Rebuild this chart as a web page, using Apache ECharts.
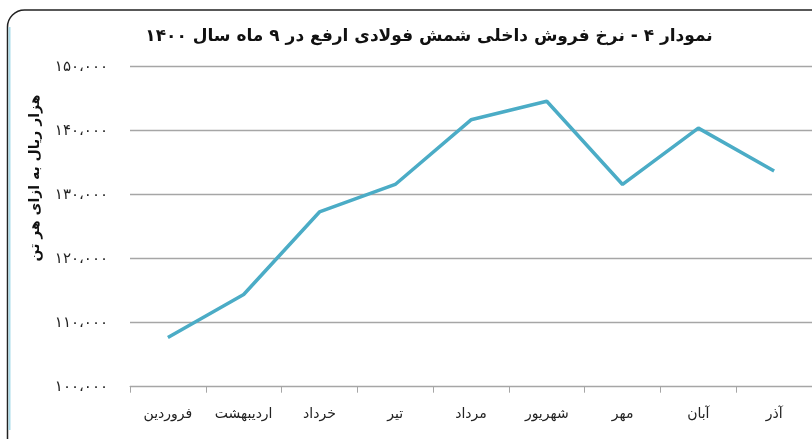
<!DOCTYPE html>
<html>
<head>
<meta charset="utf-8">
<script src="https://cdn.jsdelivr.net/npm/echarts@6/dist/echarts.min.js"></script>
<style>
  html, body { margin: 0; padding: 0; background: #fff; }
  #chart { width: 812px; height: 439px; }
</style>
</head>
<body>
<div id="chart"></div>
<script>
var months = ["فروردین", "اردیبهشت", "خرداد", "تیر", "مرداد", "شهریور", "مهر", "آبان", "آذر"];
var prices = [107700, 114400, 127300, 131600, 141700, 144600, 131600, 140400, 133700];
var yMin = 100000;
var yMax = 150000;
var yStep = 10000;

// ارقام فارسی با جداکننده هزارگان
var faDigits = ["۰", "۱", "۲", "۳", "۴", "۵", "۶", "۷", "۸", "۹"];
function toFa(v) {
  var s = String(v).replace(/\B(?=(\d{3})+(?!\d))/g, "،");
  return s.replace(/\d/g, function (d) { return faDigits[+d]; });
}

var myChart = echarts.init(document.getElementById("chart"));
var option = {
  animation: false,
  backgroundColor: "#fff",
  title: {
    text: "نمودار ۴ - نرخ فروش داخلی شمش فولادی ارفع در ۹ ماه سال ۱۴۰۰",
    left: 424,
    top: 23,
    textAlign: "center",
    textStyle: {
      fontFamily: "DejaVu Sans",
      fontWeight: "bold",
      fontSize: 17,
      color: "#111"
    }
  },
  grid: {
    left: 130,
    right: 0,
    top: 66.7,
    bottom: 52.3
  },
  xAxis: {
    type: "category",
    data: months,
    boundaryGap: true,
    axisLine: { lineStyle: { color: "#a6a6a6", width: 1 } },
    axisTick: { show: true, length: 6, lineStyle: { color: "#a6a6a6" } },
    axisLabel: {
      interval: 0,
      margin: 21,
      fontFamily: "DejaVu Sans",
      fontSize: 14,
      color: "#222"
    }
  },
  yAxis: {
    type: "value",
    min: yMin,
    max: yMax,
    interval: yStep,
    axisLine: { show: false },
    axisTick: { show: false },
    splitLine: { lineStyle: { color: "#a6a6a6", width: 1.3 } },
    axisLabel: {
      margin: 22,
      fontFamily: "DejaVu Sans",
      fontSize: 15,
      color: "#222",
      formatter: function (v) { return toFa(v); }
    }
  },
  graphic: [
    {
      type: "rect",
      shape: { x: 7.5, y: 10, width: 840, height: 460, r: 17 },
      style: { fill: "none", stroke: "#222", lineWidth: 1.5 },
      silent: true
    },
    {
      type: "line",
      shape: { x1: 9.5, y1: 27, x2: 9.5, y2: 430 },
      style: { stroke: "#a9dbe9", lineWidth: 2 },
      silent: true
    },
    {
      type: "text",
      x: 35,
      y: 178,
      rotation: Math.PI / 2,
      style: {
        text: "هزار ریال به ازای هر تن",
        fontFamily: "DejaVu Sans",
        fontWeight: "bold",
        fontSize: 14,
        fill: "#111",
        align: "center",
        verticalAlign: "middle"
      }
    }
  ],
  series: [
    {
      type: "line",
      data: prices,
      symbol: "none",
      lineStyle: { color: "#4bacc6", width: 3.5 },
      itemStyle: { color: "#4bacc6" }
    }
  ]
};
myChart.setOption(option);
</script>
</body>
</html>
